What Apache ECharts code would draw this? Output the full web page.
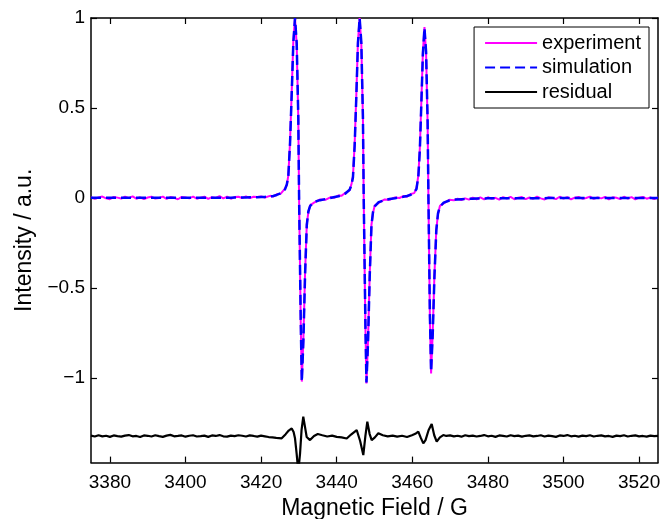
<!DOCTYPE html>
<html>
<head>
<meta charset="utf-8">
<script src="https://cdn.jsdelivr.net/npm/echarts@6/dist/echarts.min.js"></script>
<style>
html,body{margin:0;padding:0;background:#fff;}
#chart{width:662px;height:519px;}
</style>
</head>
<body>
<div id="chart"></div>
<script>
// ---- data ----
const seriesNames = ['experiment', 'simulation', 'residual'];
const xTicks = [3380, 3400, 3420, 3440, 3460, 3480, 3500, 3520];
const yTicks = [-1, -0.5, 0, 0.5, 1];

// field positions (G) shared by experiment and simulation
const fieldExp = [
  3375,3376,3377,3378,3379,3380,3381,3382,3383,3384,3385,3386,3387,3388,3389,
  3390,3391,3392,3393,3394,3395,3396,3397,3398,3399,3400,3401,3402,3403,3404,
  3405,3406,3407,3408,3409,3410,3411,3412,3413,3414,3415,3416,3417,3418,3419,
  3420,3421,3422.35,3423.2,3424.13,3425.2,3426.32,3426.8,3427.2,3427.65,
  3428.1,3428.52,3428.97,3429.42,3429.84,3430.05,3430.5,3430.77,3431.19,3431.64,
  3432.09,3432.5,3432.96,3434,3435.6,3437,3438.3,3439.45,3440.5,3441.23,
  3442.3,3443.42,3443.9,3444.3,3444.75,3445.2,3445.62,3446.07,3446.52,3446.94,
  3447.15,3447.6,3447.87,3448.29,3448.74,3449.19,3449.6,3450.06,3451.1,3452.7,
  3454,3455.4,3456.6,3457.6,3458.6,3459.6,3460.5,3461.1,3461.6,3462,
  3462.4,3462.8,3463.22,3463.65,3464.05,3464.27,3464.65,3464.97,3465.4,3465.85,
  3466.35,3466.8,3467.3,3468.3,3469.8,3471,
  3472,3473,3474,3475,3476,3477,3478,3479,3480,3481,3482,3483,3484,3485,3486,
  3487,3488,3489,3490,3491,3492,3493,3494,3495,3496,3497,3498,3499,3500,3501,
  3502,3503,3504,3505,3506,3507,3508,3509,3510,3511,3512,3513,3514,3515,3516,
  3517,3518,3519,3520,3521,3522,3523,3524,3525
];

const expIntensity = [
  0.005,-0.005,0.003,0.008,-0.002,-0.007,0.006,0.002,-0.003,0.007,-0.001,0.009,-0.004,0.004,-0.006,
  0.003,0.007,-0.003,0.000,0.008,-0.005,0.005,0.001,-0.007,0.006,0.003,-0.002,0.008,-0.004,0.002,
  0.007,-0.005,0.005,0.000,0.010,-0.002,0.007,-0.004,0.005,0.007,0.000,0.009,-0.001,0.007,0.005,
  0.009,0.003,0.012,0.008,0.021,0.024,0.052,0.072,0.125,0.31,
  0.59,0.87,1.0,0.85,0.44,-0.01,-0.71,-1.02,-0.78,-0.41,
  -0.145,-0.08,-0.041,-0.026,-0.008,-0.010,0.004,0.002,0.014,0.012,
  0.029,0.043,0.076,0.12,0.30,0.58,0.87,1.0,0.85,0.44,
  -0.01,-0.72,-1.03,-0.79,-0.42,-0.15,-0.083,-0.042,-0.027,-0.008,
  -0.010,0.003,0.000,0.011,0.007,0.022,0.027,0.054,0.125,0.28,
  0.54,0.81,0.95,0.80,0.42,-0.01,-0.66,-0.975,-0.75,-0.43,
  -0.175,-0.09,-0.044,-0.030,-0.010,-0.013,
  -0.004,-0.011,-0.002,-0.009,0.002,-0.007,0.003,-0.008,0.004,-0.005,0.001,-0.009,0.005,-0.003,0.006,
  -0.007,0.002,0.005,-0.006,0.003,-0.004,0.007,-0.002,-0.008,0.004,0.001,-0.006,0.007,-0.003,0.005,
  -0.007,0.002,0.006,-0.004,0.000,0.008,-0.005,0.003,-0.002,0.006,-0.008,0.004,0.001,-0.006,0.007,
  -0.003,0.005,-0.007,0.002,0.006,-0.004,0.003,-0.006,0.004
];

const simIntensity = [
  0.001,0.001,0.001,0.001,0.001,0.001,0.001,0.001,0.001,0.001,0.001,0.001,0.001,0.001,0.001,
  0.001,0.001,0.001,0.001,0.001,0.001,0.001,0.001,0.001,0.001,0.001,0.001,0.001,0.001,0.001,
  0.001,0.002,0.002,0.002,0.002,0.002,0.002,0.002,0.003,0.003,0.003,0.003,0.004,0.004,0.004,
  0.005,0.006,0.008,0.011,0.017,0.027,0.048,0.075,0.12,0.30,
  0.58,0.86,1.0,0.86,0.45,0.0,-0.70,-1.02,-0.79,-0.42,
  -0.15,-0.075,-0.045,-0.022,-0.012,-0.006,0.0,0.006,0.010,0.015,
  0.025,0.046,0.072,0.115,0.29,0.57,0.86,1.0,0.86,0.45,
  0.0,-0.71,-1.025,-0.80,-0.43,-0.155,-0.078,-0.046,-0.023,-0.012,
  -0.006,-0.001,0.004,0.007,0.011,0.018,0.030,0.050,0.12,0.27,
  0.53,0.80,0.945,0.81,0.43,0.0,-0.64,-0.965,-0.76,-0.44,
  -0.18,-0.085,-0.048,-0.026,-0.014,-0.009,
  -0.008,-0.007,-0.006,-0.005,-0.004,-0.003,-0.003,-0.003,-0.002,-0.002,-0.002,-0.002,-0.002,-0.002,-0.001,
  -0.001,-0.001,-0.001,-0.001,-0.001,-0.001,-0.001,-0.001,-0.001,0,0,0,0,0,0,
  0,0,0,0,0,0,0,0,0,0,0,0,0,0,0,
  0,0,0,0,0,0,0,0,0
];

// residual (offset below the spectra)
const fieldRes = [
  3375,3376,3377,3378,3379,3380,3381,3382,3383,3384,3385,3386,3387,3388,3389,
  3390,3391,3392,3393,3394,3395,3396,3397,3398,3399,3400,3401,3402,3403,3404,
  3405,3406,3407,3408,3409,3410,3411,3412,3413,3414,3415,3416,3417,3418,3419,
  3420,3421,3422,3423,3424,
  3425.45,3426.5,3427.3,3428.1,3428.6,3428.97,3429.4,3429.84,3430.3,3430.7,
  3431.16,3431.6,3432.06,3432.94,3434,3435,3436.2,3437.5,3438.8,3440,
  3441.3,3442.65,3443.8,3445.29,3446.2,3447.04,3447.6,3448.1,3448.7,3449.26,
  3450.1,3451.01,3452.2,3453.5,3454.8,3456,3457.3,3458.6,3459.9,3460.8,
  3461.59,3462.2,3462.91,3463.5,3464.3,3465.13,3465.8,3466.46,3467.3,3468.2,3469,
  3470,3471,3472,3473,3474,3475,3476,3477,3478,3479,3480,3481,3482,3483,3484,
  3485,3486,3487,3488,3489,3490,3491,3492,3493,3494,3495,3496,3497,3498,3499,
  3500,3501,3502,3503,3504,3505,3506,3507,3508,3509,3510,3511,3512,3513,3514,
  3515,3516,3517,3518,3519,3520,3521,3522,3523,3524,3525
];

const resIntensity = [
  -1.320,-1.325,-1.318,-1.324,-1.321,-1.327,-1.319,-1.323,-1.326,-1.320,
  -1.317,-1.324,-1.322,-1.328,-1.319,-1.321,-1.325,-1.318,-1.323,-1.327,
  -1.320,-1.316,-1.324,-1.322,-1.319,-1.326,-1.321,-1.318,-1.325,-1.323,
  -1.320,-1.327,-1.319,-1.322,-1.317,-1.324,-1.326,-1.320,-1.323,-1.318,
  -1.321,-1.325,-1.319,-1.322,-1.326,-1.320,-1.324,-1.328,-1.330,-1.333,
  -1.335,-1.312,-1.292,-1.280,-1.300,-1.335,-1.42,-1.52,-1.42,-1.29,
  -1.215,-1.27,-1.328,-1.345,-1.322,-1.311,-1.318,-1.325,-1.320,-1.327,
  -1.330,-1.336,-1.314,-1.289,-1.35,-1.428,-1.32,-1.243,-1.31,-1.345,
  -1.330,-1.307,-1.318,-1.324,-1.320,-1.326,-1.321,-1.328,-1.318,-1.310,
  -1.298,-1.330,-1.363,-1.345,-1.290,-1.256,-1.318,-1.354,-1.330,-1.317,-1.322,
  -1.319,-1.324,-1.321,-1.326,-1.318,-1.323,-1.320,-1.325,-1.322,-1.317,
  -1.324,-1.321,-1.327,-1.319,-1.322,-1.325,-1.318,-1.323,-1.320,-1.326,
  -1.321,-1.319,-1.324,-1.322,-1.318,-1.325,-1.320,-1.323,-1.327,-1.319,
  -1.322,-1.317,-1.324,-1.321,-1.326,-1.320,-1.323,-1.318,-1.325,-1.321,
  -1.319,-1.324,-1.322,-1.327,-1.320,-1.323,-1.318,-1.325,-1.321,-1.319,
  -1.324,-1.322,-1.326,-1.320,-1.323,-1.321
];

// ---- chart ----
const pair = (xs, ys) => xs.map((x, i) => [x, ys[i]]);
const FONT = 'Liberation Sans, Arial, Helvetica, sans-serif';
const axisLine = { show: true, onZero: false, lineStyle: { color: '#000', width: 1.5 } };
const tickStyle = { color: '#000', width: 1.2 };
const minusFmt = v => (v < 0 ? '\u2212' + Math.abs(v) : String(v));
const plainFmt = v => String(v);

const chart = echarts.init(document.getElementById('chart'), null, { renderer: 'canvas' });
chart.setOption({
  animation: false,
  backgroundColor: '#fff',
  grid: { left: 91, right: 4, top: 18, bottom: 56.4, containLabel: false, outerBoundsMode: 'none' },
  legend: {
    data: seriesNames,
    orient: 'vertical',
    right: 13,
    top: 27,
    padding: [6, 8, 6, 10],
    itemGap: 4.5,
    itemWidth: 52,
    itemHeight: 20,
    borderColor: '#000',
    borderWidth: 1,
    borderRadius: 0,
    backgroundColor: '#fff',
    itemStyle: { opacity: 0 },
    textStyle: { fontSize: 20, color: '#000', fontFamily: FONT }
  },
  xAxis: [
    {
      type: 'value', min: 3375, max: 3525, position: 'bottom',
      axisLine: axisLine,
      axisTick: { show: true, inside: true, length: 6, customValues: xTicks, lineStyle: tickStyle },
      axisLabel: { customValues: xTicks, color: '#000', fontSize: 19, fontFamily: FONT, margin: 11, formatter: plainFmt },
      splitLine: { show: false },
      name: 'Magnetic Field / G', nameLocation: 'middle', nameGap: 32,
      nameTextStyle: { fontSize: 23, color: '#000', fontFamily: FONT }
    },
    {
      type: 'value', min: 3375, max: 3525, position: 'top',
      axisLine: axisLine,
      axisTick: { show: true, inside: true, length: 6, customValues: xTicks, lineStyle: tickStyle },
      axisLabel: { show: false },
      splitLine: { show: false }
    }
  ],
  yAxis: [
    {
      type: 'value', min: -1.47, max: 1, position: 'left',
      axisLine: axisLine,
      axisTick: { show: true, inside: true, length: 6, customValues: yTicks, lineStyle: tickStyle },
      axisLabel: { customValues: yTicks, color: '#000', fontSize: 19, fontFamily: FONT, margin: 6, formatter: minusFmt },
      splitLine: { show: false },
      name: 'Intensity / a.u.', nameLocation: 'middle', nameGap: 53, nameRotate: 90,
      nameTextStyle: { fontSize: 23, color: '#000', fontFamily: FONT }
    },
    {
      type: 'value', min: -1.47, max: 1, position: 'right',
      axisLine: axisLine,
      axisTick: { show: true, inside: true, length: 6, customValues: yTicks, lineStyle: tickStyle },
      axisLabel: { show: false },
      splitLine: { show: false }
    }
  ],
  series: [
    {
      name: 'experiment', type: 'line', xAxisIndex: 0, yAxisIndex: 0,
      data: pair(fieldExp, expIntensity), showSymbol: false, symbol: 'none',
      lineStyle: { color: '#ff00ff', width: 2 }, itemStyle: { color: '#ff00ff' }, z: 2
    },
    {
      name: 'simulation', type: 'line', xAxisIndex: 0, yAxisIndex: 0,
      data: pair(fieldExp, simIntensity), showSymbol: false, symbol: 'none',
      lineStyle: { color: '#0000ff', width: 2.5, type: [10, 5] }, itemStyle: { color: '#0000ff' }, z: 3
    },
    {
      name: 'residual', type: 'line', xAxisIndex: 0, yAxisIndex: 0,
      data: pair(fieldRes, resIntensity), showSymbol: false, symbol: 'none',
      lineStyle: { color: '#000000', width: 2.2 }, itemStyle: { color: '#000000' }, z: 4
    }
  ]
});
</script>
</body>
</html>
